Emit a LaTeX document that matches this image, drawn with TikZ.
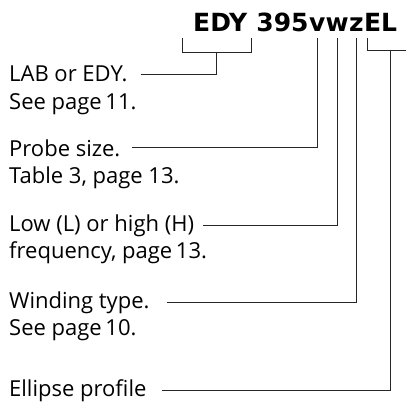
\documentclass[tikz,border=0pt]{standalone}
\usepackage{fontspec}
\setmainfont{Open Sans}
\newfontfamily\codefont{DejaVu Sans}
\usetikzlibrary{positioning}
\tikzset{
  part/.style={inner sep=0pt, anchor=base west,
    font=\codefont\bfseries\fontsize{25}{30}\selectfont},
  note/.style={inner sep=0pt, anchor=base west,
    font=\fontsize{22}{27}\selectfont},
  lead/.style={line width=0.8pt, black!85},
}
\begin{document}
\begin{tikzpicture}[x=1pt,y=1pt]
    \useasboundingbox (0,0) rectangle (406,-401);

    % Kod sondy
    \node[part] (edy) at (193,-32) {EDY};
    \node[part] (size) at ([xshift=8.7pt]edy.base east) {395};
    \node[part] (v) at (size.base east) {v};
    \node[part] (w) at (v.base east) {w};
    \node[part] (z) at (w.base east) {z};
    \node[part] (el) at (z.base east) {EL};

    % Opisy
    \node[note] (lab) at (9,-82) {LAB or EDY.};
    \node[note, below=27pt of lab.base west, anchor=base west] (labpage) {See page\,11.};

    \node[note] (probe) at (9,-156) {Probe size.};
    \node[note, below=27pt of probe.base west, anchor=base west] (probepage) {Table 3, page 13.};

    \node[note] (freq) at (9,-231) {Low (L) or high (H)};
    \node[note, below=27pt of freq.base west, anchor=base west] (freqpage) {frequency, page\,13.};

    \node[note] (wind) at (9,-308) {Winding type.};
    \node[note, below=27pt of wind.base west, anchor=base west] (windpage) {See page\,10.};

    \node[note] (ellipse) at (9,-396) {Ellipse profile};

    % Klamry pod kodem
    \draw[lead] ([shift={(-11pt,-6pt)}]edy.base west)
      |- coordinate[pos=0.75] (edyfoot) ([shift={(4pt,-20pt)}]edy.base east)
      -- ++(0,14);
    \draw[lead] ([shift={(3pt,-6pt)}]el.base west)
      |- ([shift={(12pt,-18pt)}]el.base east);
    \coordinate (elfoot) at ([shift={(-7pt,-18pt)}]el.base east);

    % Linie odniesienia
    \draw[lead] ([xshift=13pt]lab.east) -| (edyfoot);
    \draw[lead] ([xshift=11pt]probe.east) -| ([yshift=-6pt]v.base);
    \draw[lead] ([xshift=9pt]freq.east) -| ([yshift=-6pt]w.base);
    \draw[lead] ([xshift=17pt]wind.east) -| ([yshift=-6pt]z.base);
    \draw[lead] ([xshift=15pt]ellipse.east) -| (elfoot);

\end{tikzpicture}
\end{document}
